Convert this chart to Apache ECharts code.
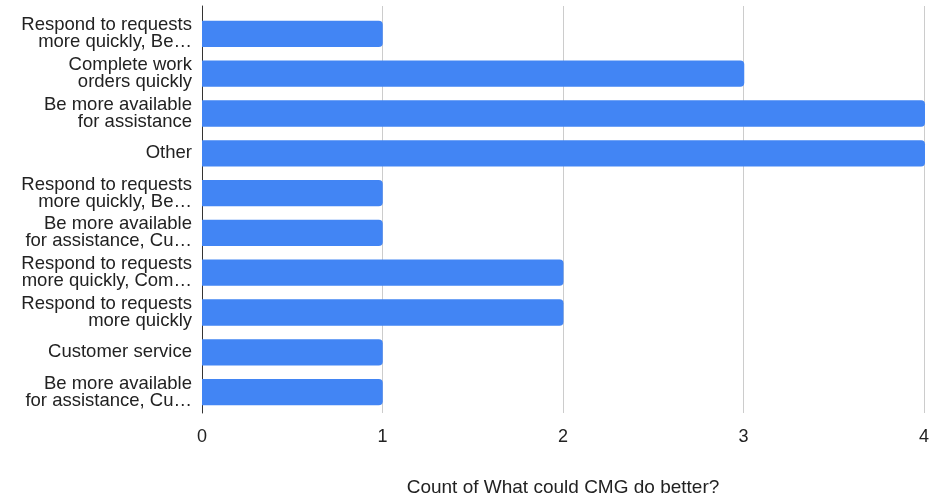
<!DOCTYPE html>
<html><head><meta charset="utf-8">
<script src="https://cdn.jsdelivr.net/npm/echarts@6/dist/echarts.min.js"></script>
<style>html,body{margin:0;padding:0;background:#fff}#c{width:932px;height:502px}</style>
</head><body><div id="c"></div>
<script>
const categories = [
  "Respond to requests\nmore quickly, Be…",
  "Complete work\norders quickly",
  "Be more available\nfor assistance",
  "Other",
  "Respond to requests\nmore quickly, Be…",
  "Be more available\nfor assistance, Cu…",
  "Respond to requests\nmore quickly, Com…",
  "Respond to requests\nmore quickly",
  "Customer service",
  "Be more available\nfor assistance, Cu…"
];
const counts = [1, 3, 4, 4, 1, 1, 2, 2, 1, 1];
const xTicks = [0, 1, 2, 3, 4];
const axisTitle = "Count of What could CMG do better?";

const FONT = "Liberation Sans, Arial, sans-serif";
const chart = echarts.init(document.getElementById('c'));
chart.setOption({
  animation: false,
  grid: [
    {left: 202, right: 7, top: 6, bottom: 84},
    {left: 202, right: 7, top: 14, bottom: 90}
  ],
  xAxis: [
    {gridIndex: 0, type: 'value', min: xTicks[0], max: xTicks[xTicks.length-1], interval: 1,
     axisLine: {show: false}, axisTick: {show: false},
     splitLine: {lineStyle: {color: '#cccccc', width: 1}},
     axisLabel: {color: '#222', fontSize: 18, fontFamily: FONT, margin: 15},
     name: axisTitle, nameLocation: 'middle', nameGap: 65,
     nameTextStyle: {color: '#222', fontSize: 19, fontFamily: FONT}},
    {gridIndex: 1, type: 'value', min: xTicks[0], max: xTicks[xTicks.length-1], interval: 1,
     show: false}
  ],
  yAxis: [
    {gridIndex: 0, type: 'value', show: true, min: 0, max: 1,
     axisLine: {show: true, lineStyle: {color: '#333', width: 1}}, axisTick: {show: false},
     axisLabel: {show: false}, splitLine: {show: false}},
    {gridIndex: 1, type: 'category', data: categories, inverse: true,
     axisLine: {show: false}, axisTick: {show: false},
     axisLabel: {color: '#222', fontSize: 18.5, lineHeight: 17, fontFamily: FONT, margin: 10, align: 'right'}}
  ],
  series: [{
    type: 'bar', xAxisIndex: 1, yAxisIndex: 1, data: counts,
    barWidth: '66%',
    itemStyle: {color: '#4285f4', borderRadius: [0, 4, 4, 0]}
  }]
});
</script></body></html>
